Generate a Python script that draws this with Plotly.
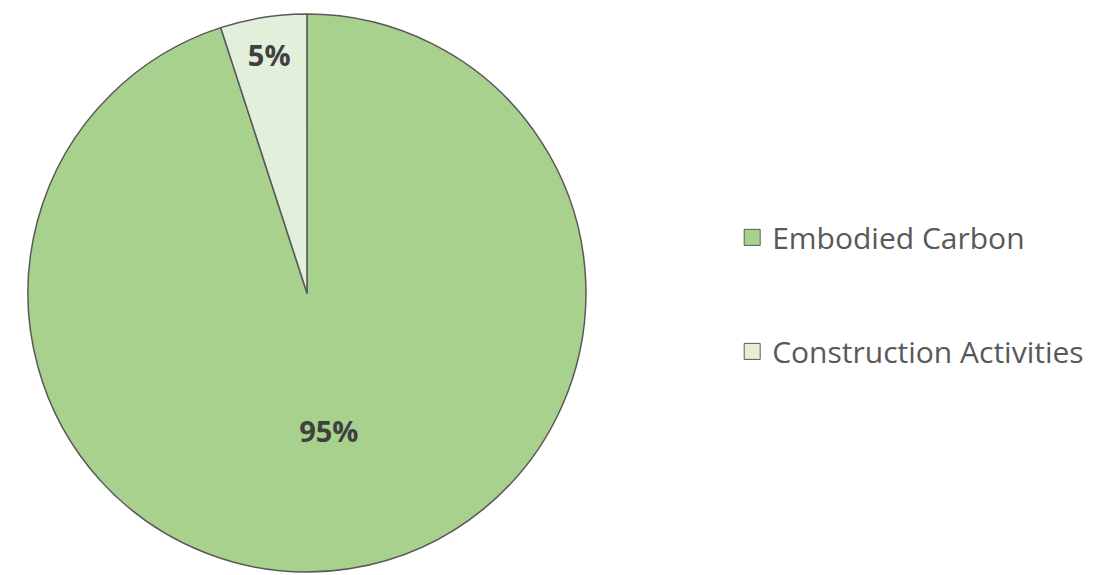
import plotly.graph_objects as go

categories = ["Embodied Carbon", "Construction Activities"]
values = [95, 5]
colors = ["#A9D18E", "#E2EFDA"]

fig = go.Figure()
fig.add_trace(go.Pie(
    labels=categories, values=values, sort=False, direction="clockwise", rotation=0,
    marker=dict(colors=colors, line=dict(color="#595959", width=1.5)),
    textinfo="percent", texttemplate="%{percent:.0%}", textposition="inside",
    insidetextorientation="horizontal",
    textfont=dict(family="Open Sans", size=29, color="#404040", weight="bold"),
    showlegend=False,
    domain=dict(x=[0.0253, 0.5298], y=[0.0052, 0.9757]),
))
for c, col in zip(categories, colors):
    fig.add_trace(go.Scatter(
        x=[None], y=[None], mode="markers", name=c, legendgroup=c,
        marker=dict(symbol="square", size=17, color=col, line=dict(color="#595959", width=1)),
    ))

fig.update_layout(
    width=1106, height=575, margin=dict(l=0, r=0, t=0, b=0),
    paper_bgcolor="white", plot_bgcolor="white",
    xaxis=dict(visible=False), yaxis=dict(visible=False),
    legend=dict(x=0.662, y=0.488, xanchor="left", yanchor="middle",
                traceorder="grouped", tracegroupgap=72,
                font=dict(family="Open Sans", size=30, color="#595959"),
                itemsizing="trace", itemwidth=30),
)
fig.write_html("out.html", config={"displayModeBar": False},
               post_script="document.body.style.margin='0';")
